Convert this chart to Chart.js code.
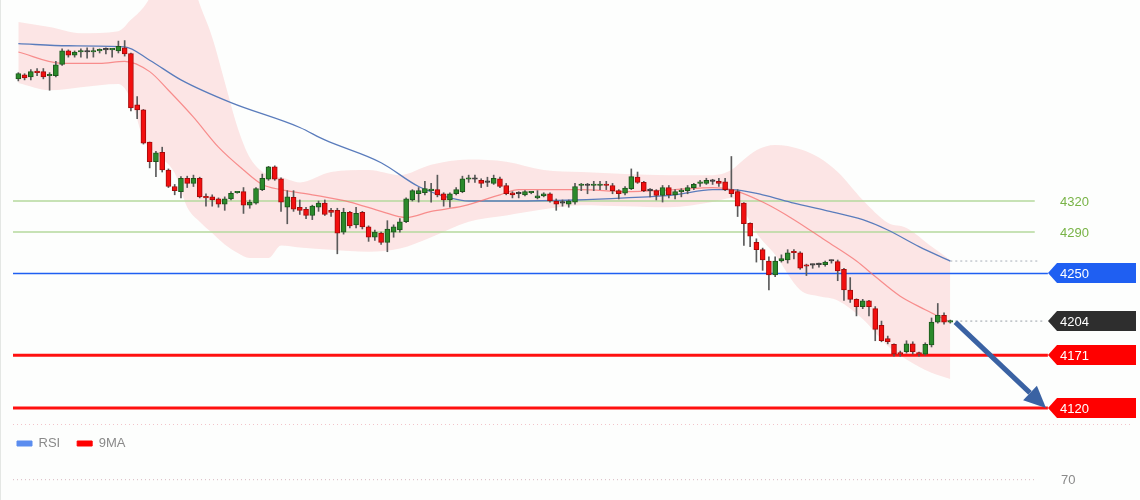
<!DOCTYPE html>
<html>
<head>
<meta charset="utf-8">
<script src="https://cdn.jsdelivr.net/npm/chart.js@4.4.1/dist/chart.umd.min.js"></script>
<style>
  body { margin: 0; background: #fdfefd; }
  #wrap { position: relative; width: 1140px; height: 500px; overflow: hidden; }
  #main { position: absolute; left: 0; top: 0; width: 1140px; height: 425px; }
  #rsi { position: absolute; left: 0; top: 420px; width: 1140px; height: 80px; }
  #edge { position: absolute; left: 0; top: 0; width: 1px; height: 500px; background: #e4e7e4; }
</style>
</head>
<body>
<div id="wrap">
  <div id="main"><canvas id="priceChart"></canvas></div>
  <div id="rsi"><canvas id="rsiChart"></canvas></div>
  <div id="edge"></div>
</div>
<script>
// candles
const openV = [4438,4442,4440,4445,4445,4441,4441,4452,4465,4461,4464,4464,4464,4465,4466,4466,4465,4468,4462.5,4413,
  4408,4377,4358,4367,4350,4334,4329,4342,4337,4342,4324,4324,4322,4317,4322,4328,4329,4316,4318,4331,
  4341,4353,4341.5,4314,4323.5,4314,4312,4306,4314,4318,4311,4311,4290,4309,4297,4309,4295,4285,4289,4280,
  4290,4292,4300,4321,4327,4328,4330,4331,4327,4321,4327,4329,4341,4341,4340,4338,4337,4341.5,4335,4328,
  4327,4326,4328,4323,4325,4327,4320,4318,4317,4319,4335,4335,4335,4335,4336,4335,4330,4327.5,4332,4343,
  4338,4330,4330,4325.5,4333,4326,4329,4330,4333,4337,4337,4339,4339,4338.5,4331,4329,4318,4298.5,4280,4273,
  4262,4248.5,4262,4263,4270.5,4270,4258,4258,4258.5,4258.5,4262,4261.5,4254,4234,4225,4218,4223.5,4216,4200,4187,
  4181.5,4173,4174.5,4182,4173,4172,4181,4203,4209.5,4203];
const highV = [4444,4443,4447,4448,4448,4444,4455,4467,4466,4465,4467,4468,4468,4467,4468,4467,4474.5,4475,4463,4421,
  4408.5,4377,4368,4372,4351,4336,4343.5,4344,4345,4343,4327,4326,4323,4324,4329,4329,4333,4321,4333,4346,
  4353.5,4354,4342.5,4330,4330,4321,4314,4316,4320,4321,4313,4313,4313,4310,4314,4310,4296,4292,4290,4301,
  4297,4303,4323,4331,4333,4339,4337,4345,4328,4328,4333,4344,4345,4345,4341.5,4343,4345,4343,4337,4329,
  4329,4330,4329,4330,4328,4328,4322,4321,4321,4337,4337,4337,4339,4339,4339,4337,4331,4334,4351,4348,
  4339,4332,4331,4335,4335,4331,4332,4335,4337,4340,4342,4341,4342,4342,4363,4331,4318.5,4299,4283.5,4274.5,
  4266,4266,4268,4273,4273,4271,4259,4259,4260,4262,4263,4263,4255,4246,4225.5,4225,4224,4218,4204,4189.5,
  4182,4175,4185,4184,4174,4183,4207,4221,4212,4205];
const lowV = [4436,4437,4437,4441,4438,4427,4440,4451,4459,4459,4459,4458,4459,4463,4462,4459,4463,4460,4407,4399.5,
  4375,4352,4343.5,4348,4333,4326,4323,4333,4334,4323,4315,4315,4314,4311,4321,4327.5,4308,4313,4317,4330,
  4340,4340,4310,4298,4310,4307,4303,4302,4310,4306,4305,4269,4288,4294,4294,4293,4281,4282,4278,4271,
  4285,4290,4299,4320,4319,4326,4319,4324,4315,4314,4326,4328,4338,4338,4333,4334,4336,4333,4326,4323,
  4323,4325,4327,4322,4324,4319,4311,4315,4314,4317,4330,4327,4330,4331,4331,4327,4322,4326,4331,4337,
  4329,4324,4321,4319,4323,4322,4324,4327,4331,4334,4336,4336,4334,4330,4324,4305,4277,4276,4261,4253,
  4234,4247,4261,4260,4264,4254,4248,4255,4256,4257,4260,4243,4224,4222,4209,4216,4209,4185,4184,4182,
  4170,4170,4173,4172,4170,4171,4179,4202,4201,4202];
const closeV = [4443,4439,4445,4444,4440,4441.5,4451.5,4465,4461,4464,4464.5,4464,4464.5,4465.5,4466,4466.5,4469.5,4462,4410,4408,
  4376,4358,4366.5,4350,4334,4330,4342,4337,4342,4324,4323,4321,4317,4322,4327.5,4328.5,4316,4319,4332,4342,
  4353,4341,4319,4324,4312,4311,4306,4315,4318,4307,4309,4289,4309,4296,4308,4295,4285,4290,4280,4293,
  4295,4300,4322,4330,4330,4332,4330.5,4326,4321,4327,4331,4341.5,4341.5,4341,4337,4338,4342,4334,4327,4326,
  4327,4329,4328.5,4325,4327,4320,4317,4318,4320,4334,4335.5,4335,4336,4336,4335,4330,4327,4332.5,4343.5,4338,
  4330,4330,4325.5,4333,4326,4329,4330,4333,4336,4337.5,4340,4339,4337,4331,4327,4315,4298,4286,4273,4263,
  4248.5,4262,4264.5,4270,4270,4255,4257,4258,4258.5,4261,4262,4252.5,4234,4225,4218,4223.5,4218,4196,4185,4184,
  4172,4172,4182,4174.5,4172,4181.5,4203,4209.5,4203,4204];

// bollinger band edges
const bandIdx   = [0,5,10,16,18,20,22,25,27,29,31,33,35,37,40,42,45,50,56,61,66,72,78,84,90,97,104,111,114,116,118,121,125,128,131,135,139,142,146,149];
const bandUpper = [4493,4488,4482,4484,4495,4507,4525,4545,4545,4510,4478,4435,4392,4362,4345,4343,4338,4348,4350,4345,4355,4360,4358,4350,4348,4346,4345,4345,4350,4360,4369,4374,4370,4362,4348,4321,4299,4294,4276,4263];
const bandLower = [4434,4427,4430,4433,4418,4380,4366,4347,4314,4300,4289,4278,4270,4265,4265,4277,4275,4273,4271,4274,4285,4300,4306,4312,4316,4315,4314,4319,4323,4310,4289,4268,4234,4228,4224,4206,4180,4167,4154,4148];

// moving averages
const maSlowIdx = [0,8,17,21,26,34,45,49,58,64,69,72,79,89,97,105,111,114,119,124,129,135,139,144,149];
const maSlow    = [4472,4470,4469,4456,4437,4415,4391,4379,4357,4334,4323,4320,4320,4321,4323,4326,4331,4331,4326,4318,4311,4302,4292,4276,4262];
const maFastIdx = [0,7,13,17,21,24,28,32,36,39,42,47,53,58,62,66,71,77,80,85,90,97,105,111,114,119,124,129,134,137,141,145,149];
const maFast    = [4464,4453,4453,4455,4445,4427,4401,4372,4350,4336,4331,4326,4319,4310,4304,4310,4315,4326,4331,4331,4331,4329,4331,4333,4331,4319,4302,4282,4262,4247,4228,4215,4203];

// price levels
const greenLevels = [4320, 4290];
const tagLevels = [4250, 4204, 4171, 4120];
const tagColors = ["#1f5ff2", "#2e2e2e", "#ff0000", "#ff0000"];
const lastMaLevel = 4262;
const arrowFrom = [149.8, 4203];
const arrowTo = [164.3, 4120];
const rsiLevel = 70;

Chart.defaults.font.family = "'Liberation Sans', Arial, sans-serif";

const X_MIN = -2.93, X_MAX = 179.33;

function seg(x0, x1, v) {
  return [{ x: x0, y: v }, { x: x1, y: v }];
}
function pts(idx, vals) {
  return idx.map((x, i) => ({ x: x, y: vals[i] }));
}
function lineSet(data, color, width, order, extra) {
  return Object.assign({
    type: "line", data: data, borderColor: color, borderWidth: width,
    pointRadius: 0, fill: false, order: order
  }, extra || {});
}

const candleColor = (ctx, up, down, flat) => {
  const i = ctx.dataIndex;
  if (closeV[i] > openV[i]) return up;
  if (closeV[i] < openV[i]) return down;
  return flat;
};

const overlay = {
  id: "overlay",
  afterDatasetsDraw(chart) {
    const { ctx, scales: { x, y } } = chart;
    ctx.save();
    // arrow
    const x0 = x.getPixelForValue(arrowFrom[0]), y0 = y.getPixelForValue(arrowFrom[1]);
    const x1 = x.getPixelForValue(arrowTo[0]), y1 = y.getPixelForValue(arrowTo[1]);
    const ang = Math.atan2(y1 - y0, x1 - x0);
    const headL = 22, headW = 10;
    const bx = x1 - headL * Math.cos(ang), by = y1 - headL * Math.sin(ang);
    ctx.strokeStyle = "#3a62a3";
    ctx.lineWidth = 5;
    ctx.beginPath(); ctx.moveTo(x0, y0); ctx.lineTo(bx, by); ctx.stroke();
    ctx.fillStyle = "#3a62a3";
    ctx.beginPath();
    ctx.moveTo(x1, y1);
    ctx.lineTo(bx + headW * Math.sin(ang), by - headW * Math.cos(ang));
    ctx.lineTo(bx - headW * Math.sin(ang), by + headW * Math.cos(ang));
    ctx.closePath(); ctx.fill();

    // green level labels
    ctx.font = "13px 'Liberation Sans', Arial, sans-serif";
    ctx.textBaseline = "middle";
    ctx.fillStyle = "#78b346";
    greenLevels.forEach(v => ctx.fillText(String(v), 1060, y.getPixelForValue(v) + 1));

    // tags
    tagLevels.forEach((v, i) => {
      const py = Math.round(y.getPixelForValue(v));
      ctx.fillStyle = tagColors[i];
      ctx.beginPath();
      ctx.moveTo(1048, py);
      ctx.lineTo(1057, py - 10);
      ctx.lineTo(1136, py - 10);
      ctx.lineTo(1136, py + 10);
      ctx.lineTo(1057, py + 10);
      ctx.closePath(); ctx.fill();
      ctx.fillStyle = "#ffffff";
      ctx.fillText(String(v), 1060, py + 1);
    });

    // panel separator
    ctx.strokeStyle = "#f2c4ca";
    ctx.lineWidth = 1;
    ctx.setLineDash([1, 3]);
    ctx.beginPath(); ctx.moveTo(13, chart.height - 0.5); ctx.lineTo(1130, chart.height - 0.5); ctx.stroke();
    ctx.restore();
  }
};

new Chart(document.getElementById("priceChart"), {
  data: {
    datasets: [
      lineSet(pts(bandIdx, bandUpper), "rgba(0,0,0,0)", 0, 9,
        { fill: "+1", backgroundColor: "rgba(250,190,190,0.38)", cubicInterpolationMode: "monotone" }),
      lineSet(pts(bandIdx, bandLower), "rgba(0,0,0,0)", 0, 9, { cubicInterpolationMode: "monotone" }),
      lineSet(seg(-0.85, 162.5, greenLevels[0]), "#b5d99c", 1.6, 8),
      lineSet(seg(-0.85, 162.5, greenLevels[1]), "#b5d99c", 1.6, 8),
      lineSet(seg(-0.85, 164.6, tagLevels[0]), "#1f5ff2", 1.6, 8),
      lineSet(seg(149.8, 164.1, tagLevels[1]), "#9aa0a8", 1, 8, { borderDash: [2, 3] }),
      lineSet(seg(149, 163.3, lastMaLevel), "#a8aeb8", 1, 8, { borderDash: [2, 3] }),
      lineSet(seg(-0.85, 164.6, tagLevels[2]), "#ff1010", 3, 8),
      lineSet(seg(-0.85, 164.6, tagLevels[3]), "#ff1010", 3, 8),
      lineSet(pts(maFastIdx, maFast), "rgba(245,110,110,0.75)", 1.2, 5, { cubicInterpolationMode: "monotone" }),
      lineSet(pts(maSlowIdx, maSlow), "#5a7cbc", 1.3, 5, { cubicInterpolationMode: "monotone" }),
      {
        type: "bar", order: 3, grouped: false, barThickness: 1,
        data: lowV.map((l, i) => ({ x: i, y: [l, highV[i]] })),
        backgroundColor: "#5a5a5a"
      },
      {
        type: "bar", order: 2, grouped: false, barThickness: 5, minBarLength: 1.5,
        data: openV.map((o, i) => ({ x: i, y: [o, closeV[i]] })),
        backgroundColor: c => candleColor(c, "#2b8a2b", "#f20f0f", "#444"),
        borderColor: c => candleColor(c, "#1c571c", "#a50a0a", "#333"),
        borderWidth: 1, borderSkipped: false
      }
    ]
  },
  options: {
    responsive: true, maintainAspectRatio: false, animation: false,
    layout: { padding: 0 },
    plugins: { legend: { display: false }, tooltip: { enabled: false } },
    scales: {
      x: { type: "linear", min: X_MIN, max: X_MAX, offset: false, grid: { offset: false }, display: false },
      y: { type: "linear", min: 4103.6, max: 4514.2, display: false }
    }
  },
  plugins: [overlay]
});

const rsiLabel = {
  id: "rsiLabel",
  afterDatasetsDraw(chart) {
    const { ctx, scales: { y } } = chart;
    ctx.save();
    ctx.font = "13px 'Liberation Sans', Arial, sans-serif";
    ctx.fillStyle = "#8a8a8a";
    ctx.textBaseline = "middle";
    ctx.fillText(String(rsiLevel), 1061, y.getPixelForValue(rsiLevel) + 1);
    ctx.restore();
  }
};

new Chart(document.getElementById("rsiChart"), {
  type: "line",
  data: {
    datasets: [
      { label: "RSI", data: [], borderColor: "#5b8def", backgroundColor: "#5b8def", borderWidth: 1 },
      { label: "9MA", data: [], borderColor: "#ff0000", backgroundColor: "#ff0000", borderWidth: 1 },
      { label: "", data: seg(-0.85, 162.5, rsiLevel), borderColor: "#d9b8c0", borderWidth: 1,
        borderDash: [1, 3], pointRadius: 0 }
    ]
  },
  options: {
    responsive: true, maintainAspectRatio: false, animation: false,
    layout: { padding: 0 },
    plugins: {
      tooltip: { enabled: false },
      legend: {
        position: "top", align: "start",
        labels: {
          boxWidth: 15, boxHeight: 5, padding: 17, color: "#8a8a8a",
          font: { size: 13 },
          filter: item => item.text !== ""
        }
      }
    },
    scales: {
      x: { type: "linear", min: X_MIN, max: X_MAX, offset: false, display: false },
      y: { min: 39, max: 100, display: false }
    }
  },
  plugins: [rsiLabel]
});
</script>
</body>
</html>
